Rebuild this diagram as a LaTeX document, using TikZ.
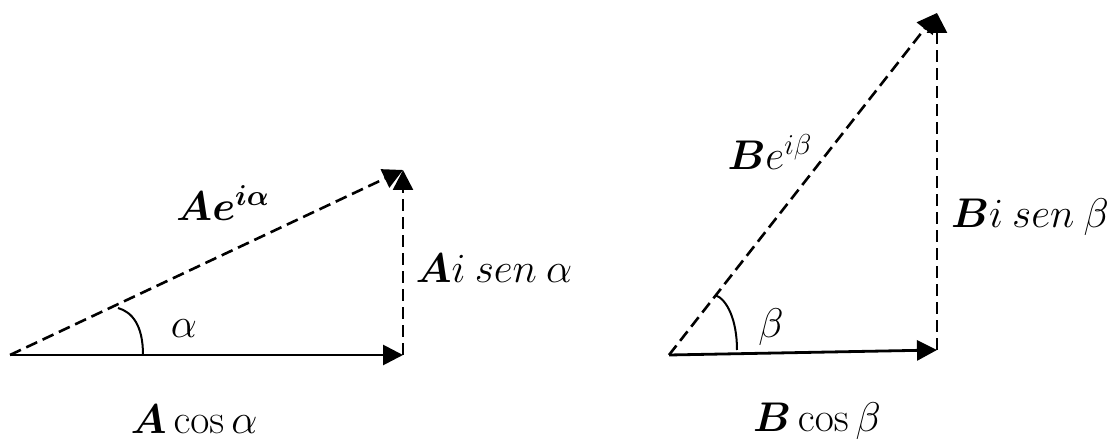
\documentclass[tikz,border=0pt]{standalone}
\usepackage{amsmath,amssymb}
\usepackage{tikz}
\usetikzlibrary{arrows.meta,calc}

\begin{document}
\begin{tikzpicture}[x=0.5pt,y=-0.5pt,
  vec/.style={-{Triangle[length=10pt,width=10pt]}, line width=1.4pt},
  proj/.style={vec, line width=1.3pt, dash pattern=on 6pt off 3pt},
  lbl/.style={font=\fontsize{21}{25}\selectfont, inner sep=0pt, anchor=base}]
\useasboundingbox (0,0) rectangle (1109,443);
% Left triangle (alpha)
\coordinate (A0) at (10,355);
\coordinate (A1) at (403,355);
\coordinate (A2) at (403,170);
\draw[vec] (A0) -- (A1);
\draw[proj] (A0) -- (A2);
\draw[proj] (A1) -- (A2);
% angle mark
\draw[line width=1pt] ($(A0)+(133,0)$) .. controls +(0,-30) and +(14,4) .. ($(A0)+(108,-47)$);
\node[lbl] (alpha) at (184,337) {$\alpha$};
\node[lbl] (Aexp) at (223,221) {$\boldsymbol{Ae^{i\alpha}}$};
\node[lbl] (Asin) at (494,283) {$\boldsymbol{A}i\:sen\:\alpha$};
\node[lbl] (Acos) at (194,433) {$\boldsymbol{A}\cos\alpha$};
% Right triangle (beta)
\coordinate (B0) at (669,355);
\coordinate (B1) at (937,350);
\coordinate (B2) at (937,13);
\draw[vec] (B0) -- (B1);
\draw[proj] (B0) -- (B2);
\draw[proj] (B1) -- (B2);
% angle mark
\draw[line width=1pt] ($(B0)+(68,-5)$) .. controls +(0,-30) and +(12,4) .. ($(B0)+(46,-60)$);
\node[lbl] (beta) at (771,337) {$\beta$};
\node[lbl] (Bexp) at (770,170) {$\boldsymbol{B}e^{i\beta}$};
\node[lbl] (Bsin) at (1030,228) {$\boldsymbol{B}i\:sen\:\beta$};
\node[lbl] (Bcos) at (817,431) {$\boldsymbol{B}\cos\beta$};
\end{tikzpicture}
\end{document}
